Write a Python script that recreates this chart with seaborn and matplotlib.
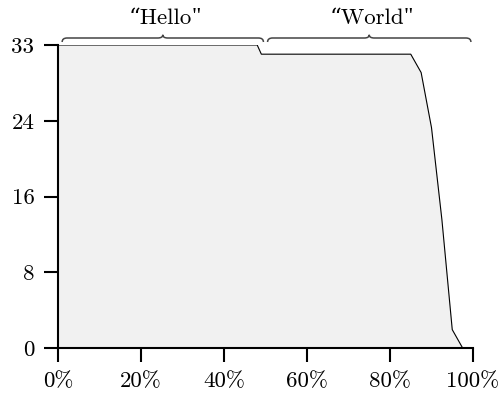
import numpy as np
import pandas as pd
import matplotlib
matplotlib.use("Agg")
import matplotlib.pyplot as plt
import matplotlib.transforms as mtransforms
from matplotlib.path import Path
from matplotlib.patches import PathPatch
import seaborn as sns

# --- data ---
share_pct = [0, 48, 49, 85, 87.5, 90, 92.5, 95, 97.5]
value = [33, 33, 32, 32, 30, 24, 14, 2, 0]

group_labels = ['\u201cHello', '\u201cWorld']
group_start = [1, 50.5]
group_end = [49.5, 99.5]

y_max = 33
x_ticks = [0, 20, 40, 60, 80, 100]

sns.set_style("ticks")
plt.rcParams['font.family'] = ['cmr10', 'DejaVu Serif']
plt.rcParams['axes.unicode_minus'] = False

df = pd.DataFrame({"share": share_pct, "value": value})

fig = plt.figure(figsize=(5.03, 4.03), dpi=100)
ax = fig.add_axes([58 / 503, 55 / 403, 415 / 503, 303 / 403])

ax.fill_between(df["share"], df["value"], color="#f1f1f1", linewidth=0)
sns.lineplot(data=df, x="share", y="value", ax=ax, color="black", linewidth=0.8)

ax.set_xlim(0, 100)
ax.set_ylim(0, y_max)
yt = np.linspace(0, y_max, 5)
ax.set_yticks(yt)
ax.set_yticklabels([str(int(np.floor(v))) for v in yt])
ax.set_xticks(x_ticks)
ax.set_xticklabels([f"{v}%" for v in x_ticks])
ax.set_xlabel("")
ax.set_ylabel("")

for s in ["top", "right"]:
    ax.spines[s].set_visible(False)
for s in ["left", "bottom"]:
    ax.spines[s].set_linewidth(1.5)
    ax.spines[s].set_color("black")
ax.tick_params(axis="both", direction="out", length=10, width=1.5,
               labelsize=16.5, colors="black", pad=7)

# --- braces above the groups ---
trans = mtransforms.blended_transform_factory(ax.transData, ax.transAxes)
y0 = 1 + 7 / 303   # brace line
h = 4 / 303        # curl height
for lab, x0, x1 in zip(group_labels, group_start, group_end):
    xm = (x0 + x1) / 2
    c = 1.2
    verts = [(x0, y0 - h), (x0, y0), (x0 + c, y0),
             (xm - c, y0), (xm, y0), (xm, y0 + h * 0.8),
             (xm, y0), (xm + c, y0),
             (x1 - c, y0), (x1, y0), (x1, y0 - h)]
    codes = [Path.MOVETO, Path.CURVE3, Path.CURVE3,
             Path.LINETO, Path.CURVE3, Path.CURVE3,
             Path.CURVE3, Path.CURVE3,
             Path.LINETO, Path.CURVE3, Path.CURVE3]
    patch = PathPatch(Path(verts, codes), transform=trans, fill=False,
                      edgecolor="#444444", linewidth=1.1, clip_on=False)
    ax.add_patch(patch)
    t = ax.text(xm - 0.6, y0 + 10 / 303, lab, transform=trans, ha="center",
                va="bottom", fontsize=16.5, color="black")
    # straight closing quote, as in the reference
    ax.annotate('"', xy=(1, 0), xycoords=t, xytext=(-0.5, 0),
                textcoords="offset points", ha="left", va="bottom",
                fontsize=16.5, family="Liberation Serif", color="black")

fig.savefig("out.png", dpi=100)
